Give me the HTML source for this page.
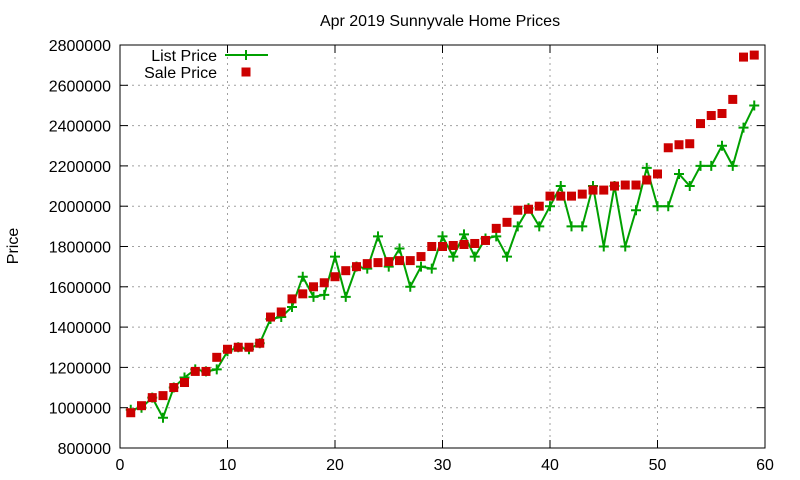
<!DOCTYPE html>
<html><head><meta charset="utf-8"><style>body{margin:0;background:#fff}svg{display:block;font-family:"Liberation Sans",sans-serif}</style></head>
<body><svg id="s" width="800" height="480" xmlns="http://www.w3.org/2000/svg"></svg>
<script>
const L=[990,1000,1050,950,1100,1150,1190,1180,1190,1280,1300,1290,1320,1440,1450,1500,1650,1550,1560,1750,1550,1700,1690,1850,1700,1790,1600,1700,1690,1850,1750,1860,1750,1840,1850,1750,1900,1990,1900,2000,2100,1900,1900,2100,1800,2100,1800,1980,2190,2000,2000,2160,2100,2200,2200,2300,2200,2390,2500];
const S=[975,1010,1050,1060,1100,1125,1180,1180,1250,1290,1300,1300,1320,1450,1475,1540,1565,1600,1620,1650,1680,1700,1715,1720,1725,1730,1730,1750,1800,1800,1805,1810,1815,1830,1890,1920,1980,1985,2000,2050,2050,2050,2060,2080,2080,2100,2105,2105,2130,2160,2290,2305,2310,2410,2450,2460,2530,2740,2750];
const X=i=>120+i*10.75, Y=v=>448-(v-800)*403/2000;
let h='';
for(let v=800;v<=2800;v+=200){const y=Y(v);
 if(v>800&&v<2800)h+=`<line x1="120" x2="765" y1="${y}" y2="${y}" stroke="#a0a0a0" stroke-dasharray="2,4"/>`;
 h+=`<line x1="120" x2="128" y1="${y}" y2="${y}" stroke="#000"/><line x1="757" x2="765" y1="${y}" y2="${y}" stroke="#000"/>`;
 h+=`<text x="111" y="${y+6}" font-size="16" text-anchor="end">${v*1000}</text>`;}
for(let i=0;i<=60;i+=10){const x=X(i);
 if(i>0&&i<60)h+=`<line x1="${x}" x2="${x}" y1="45" y2="448" stroke="#a0a0a0" stroke-dasharray="2,4"/>`;
 h+=`<line x1="${x}" x2="${x}" y1="448" y2="440" stroke="#000"/><line x1="${x}" x2="${x}" y1="45" y2="53" stroke="#000"/>`;
 h+=`<text x="${x}" y="470" font-size="16" text-anchor="middle">${i}</text>`;}
h+=`<rect x="120" y="45" width="645" height="403" fill="none" stroke="#000"/>`;
h+=`<polyline fill="none" stroke="#00a000" stroke-width="2" points="${L.map((v,i)=>X(i+1)+','+Y(v)).join(' ')}"/>`;
L.forEach((v,i)=>{const x=X(i+1),y=Y(v);h+=`<path d="M${x-5},${y}h10M${x},${y-5}v10" stroke="#00a000" stroke-width="2"/>`;});
S.forEach((v,i)=>{h+=`<rect x="${X(i+1)-4.5}" y="${Y(v)-4.5}" width="9" height="9" fill="#cc0000"/>`;});
h+=`<text x="440" y="26" font-size="16" text-anchor="middle">Apr 2019 Sunnyvale Home Prices</text>`;
h+=`<text transform="translate(18,246) rotate(-90)" font-size="16" text-anchor="middle">Price</text>`;
h+=`<text x="217" y="61" font-size="16" text-anchor="end">List Price</text><line x1="225" x2="268" y1="55" y2="55" stroke="#00a000" stroke-width="2"/><path d="M241,55h10M246,50v10" stroke="#00a000" stroke-width="2"/>`;
h+=`<text x="217" y="78" font-size="16" text-anchor="end">Sale Price</text><rect x="241.5" y="67.5" width="9" height="9" fill="#cc0000"/>`;
document.getElementById('s').innerHTML=h;
</script></body></html>
